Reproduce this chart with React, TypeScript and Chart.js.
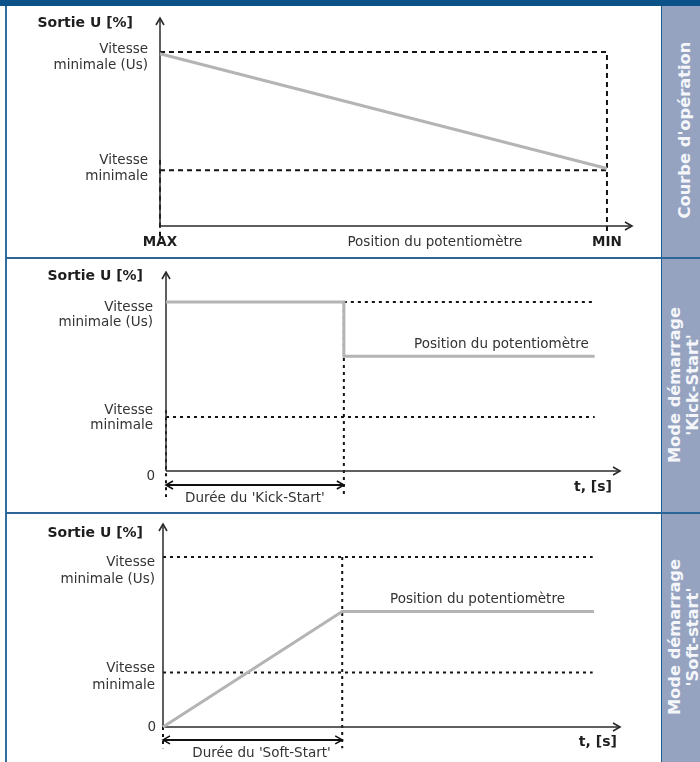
import React, { useEffect, useRef } from "react";
import { Chart, registerables } from "chart.js";

Chart.register(...registerables);

const FONT = '"DejaVu Sans", Verdana, sans-serif';

// ---------------- data ----------------
// Output levels (Sortie U [%]) in percent of the Us level
const LEVEL_US = 100; // Vitesse minimale (Us)
const LEVEL_POT = 68; // Position du potentiomètre
const LEVEL_VMIN = 32; // Vitesse minimale

const Y_TITLE = "Sortie U [%]";
const Y_LABELS_US = ["Vitesse", "minimale (Us)"];
const Y_LABELS_VMIN = ["Vitesse", "minimale"];
const ZERO_LABEL = "0";
const T_LABEL = "t, [s]";
const POT_LABEL = "Position du potentiomètre";

// Panel 1 : courbe d'opération (x = potentiometer position, MAX -> MIN)
const P1_TICK_VALUES = [0, 100];
const P1_TICK_LABELS = ["MAX", "MIN"];
const P1_CURVE_X = [0, 100];
const P1_CURVE_Y = [99, 33];

// Panel 2 : Kick-Start (x = time)
const P2_KICK_END = 40;
const P2_END = 96.4;
const P2_CURVE_X = [0, P2_KICK_END, P2_KICK_END, P2_END];
const P2_CURVE_Y = [LEVEL_US, LEVEL_US, LEVEL_POT, LEVEL_POT];

// Panel 3 : Soft-Start (x = time)
const P3_SOFT_END = 40;
const P3_END = 96.2;
const P3_CURVE_X = [0, P3_SOFT_END, P3_END];
const P3_CURVE_Y = [0, LEVEL_POT, LEVEL_POT];

const DURATION_LABELS = ["Durée du 'Kick-Start'", "Durée du 'Soft-Start'"];
const SIDE_TITLES = [
  ["Courbe d'opération"],
  ["Mode démarrage", "'Kick-Start'"],
  ["Mode démarrage", "'Soft-start'"],
];

// ---------------- helpers ----------------
type Pt = { x: number; y: number };
const zip = (xs: number[], ys: number[]): Pt[] => xs.map((x, i) => ({ x, y: ys[i] }));

type TextItem = {
  t: string;
  x: number;
  y: number;
  dx?: number;
  dy?: number;
  align?: CanvasTextAlign;
  bold?: boolean;
  size?: number;
};

const GRAY = "#b4b4b4";
const DOT = "#141414";
const AXIS = "#2a2a2a";

function curve(data: Pt[]) {
  return { data, borderColor: GRAY, borderWidth: 3, order: 0 };
}
function ref(data: Pt[], dash: number[]) {
  return { data, borderColor: DOT, borderWidth: 2, borderDash: dash, order: 2 };
}
function axis(data: Pt[]) {
  return { data, borderColor: AXIS, borderWidth: 1.5, arrow: "end", order: 1 };
}
function dim(data: Pt[]) {
  return { data, borderColor: "#111", borderWidth: 2, arrow: "both", order: 1 };
}

function makePlugin(texts: TextItem[]) {
  return {
    id: "diagram",
    afterDatasetsDraw(chart: any) {
      const ctx: CanvasRenderingContext2D = chart.ctx;
      ctx.save();
      chart.data.datasets.forEach((ds: any, i: number) => {
        if (!ds.arrow) return;
        const pts = chart.getDatasetMeta(i).data;
        const head = (p: any, q: any) => {
          const vx = p.x - q.x;
          const vy = p.y - q.y;
          const len = Math.hypot(vx, vy) || 1;
          const ux = vx / len;
          const uy = vy / len;
          const L = 7;
          const W = 4;
          ctx.beginPath();
          ctx.moveTo(p.x - L * ux - W * uy, p.y - L * uy + W * ux);
          ctx.lineTo(p.x, p.y);
          ctx.lineTo(p.x - L * ux + W * uy, p.y - L * uy - W * ux);
          ctx.strokeStyle = ds.borderColor;
          ctx.lineWidth = 1.6;
          ctx.lineJoin = "miter";
          ctx.stroke();
        };
        head(pts[pts.length - 1], pts[pts.length - 2]);
        if (ds.arrow === "both") head(pts[0], pts[1]);
      });
      const xs = chart.scales.x;
      const ys = chart.scales.y;
      texts.forEach((t) => {
        const size = t.size ?? 13.5;
        ctx.font = `${t.bold ? "bold " : ""}${size}px ${FONT}`;
        ctx.fillStyle = t.bold ? "#1e1e1e" : "#333333";
        ctx.textAlign = t.align ?? "left";
        ctx.textBaseline = "middle";
        ctx.fillText(
          t.t,
          xs.getPixelForValue(t.x) + (t.dx ?? 0),
          ys.getPixelForValue(t.y) + (t.dy ?? 0)
        );
      });
      ctx.restore();
    },
  };
}

type Spec = {
  top: number;
  height: number;
  pad: { left: number; right: number; top: number; bottom: number };
  xMax: number;
  yMax: number;
  datasets: any[];
  texts: TextItem[];
};

// ---------------- panel specs ----------------
function panel1(): Spec {
  const xMax = 105.6;
  const yMax = 119.5;
  const dash = [5, 4];
  return {
    top: 6,
    height: 251,
    pad: { left: 154, right: 29, top: 12, bottom: 31 },
    xMax,
    yMax,
    datasets: [
      curve(zip(P1_CURVE_X, P1_CURVE_Y)),
      ref(zip([0, P1_TICK_VALUES[1], P1_TICK_VALUES[1]], [LEVEL_US, LEVEL_US, -4]), dash),
      ref(zip([0, P1_TICK_VALUES[1]], [LEVEL_VMIN, LEVEL_VMIN]), dash),
      ref(zip([0, 0], [38, -6]), dash),
      axis(zip([0, 0], [0, yMax])),
      axis(zip([0, xMax], [0, 0])),
    ],
    texts: [
      { t: Y_TITLE, x: 0, y: yMax, dx: -27, dy: 5, align: "right", bold: true, size: 14 },
      { t: Y_LABELS_US[0], x: 0, y: LEVEL_US, dx: -12, dy: -2, align: "right" },
      { t: Y_LABELS_US[1], x: 0, y: LEVEL_US, dx: -12, dy: 14, align: "right" },
      { t: Y_LABELS_VMIN[0], x: 0, y: LEVEL_VMIN, dx: -12, dy: -10, align: "right" },
      { t: Y_LABELS_VMIN[1], x: 0, y: LEVEL_VMIN, dx: -12, dy: 6, align: "right" },
      { t: P1_TICK_LABELS[0], x: P1_TICK_VALUES[0], y: 0, dy: 16.5, align: "center", bold: true },
      { t: P1_TICK_LABELS[1], x: P1_TICK_VALUES[1], y: 0, dy: 16.5, align: "center", bold: true },
      { t: POT_LABEL, x: 61.5, y: 0, dy: 16.5, align: "center" },
    ],
  };
}

function panel2(): Spec {
  const xMax = 102.1;
  const yMax = 117.8;
  const dash = [3, 4];
  const below = -15.4;
  const arrowY = -8.3;
  return {
    top: 259,
    height: 253,
    pad: { left: 160, right: 41, top: 13, bottom: 41 },
    xMax,
    yMax,
    datasets: [
      curve(zip(P2_CURVE_X, P2_CURVE_Y)),
      ref(zip([P2_KICK_END, P2_END], [LEVEL_US, LEVEL_US]), dash),
      ref(zip([0, P2_END], [LEVEL_VMIN, LEVEL_VMIN]), dash),
      ref(zip([P2_KICK_END, P2_KICK_END], [LEVEL_US, below]), dash),
      ref(zip([0, 0], [36, below]), dash),
      dim(zip([0, P2_KICK_END], [arrowY, arrowY])),
      axis(zip([0, 0], [0, yMax])),
      axis(zip([0, xMax], [0, 0])),
    ],
    texts: [
      { t: Y_TITLE, x: 0, y: yMax, dx: -23, dy: 4, align: "right", bold: true, size: 14 },
      { t: Y_LABELS_US[0], x: 0, y: LEVEL_US, dx: -13, dy: 5, align: "right" },
      { t: Y_LABELS_US[1], x: 0, y: LEVEL_US, dx: -13, dy: 20, align: "right" },
      { t: Y_LABELS_VMIN[0], x: 0, y: LEVEL_VMIN, dx: -13, dy: -6, align: "right" },
      { t: Y_LABELS_VMIN[1], x: 0, y: LEVEL_VMIN, dx: -13, dy: 9, align: "right" },
      { t: ZERO_LABEL, x: 0, y: 0, dx: -11, dy: 5, align: "right" },
      { t: POT_LABEL, x: 95.1, y: LEVEL_POT, dy: -12, align: "right" },
      { t: T_LABEL, x: 100.3, y: 0, dy: 16, align: "right", bold: true, size: 14 },
      { t: DURATION_LABELS[0], x: P2_KICK_END / 2, y: 0, dy: 27, align: "center" },
    ],
  };
}

function panel3(): Spec {
  const xMax = 102;
  const yMax = 119.4;
  const dash = [3, 4];
  const below = -12.5;
  const arrowY = -7.6;
  return {
    top: 514,
    height: 248,
    pad: { left: 157, right: 41, top: 10, bottom: 35 },
    xMax,
    yMax,
    datasets: [
      curve(zip(P3_CURVE_X, P3_CURVE_Y)),
      ref(zip([0, 95.9], [LEVEL_US, LEVEL_US]), dash),
      ref(zip([0, 95.9], [LEVEL_VMIN, LEVEL_VMIN]), dash),
      ref(zip([P3_SOFT_END, P3_SOFT_END], [LEVEL_US, below]), dash),
      ref(zip([0, 0], [0, below]), dash),
      dim(zip([0, P3_SOFT_END], [arrowY, arrowY])),
      axis(zip([0, 0], [0, yMax])),
      axis(zip([0, xMax], [0, 0])),
    ],
    texts: [
      { t: Y_TITLE, x: 0, y: yMax, dx: -20, dy: 9, align: "right", bold: true, size: 14 },
      { t: Y_LABELS_US[0], x: 0, y: LEVEL_US, dx: -8, dy: 6, align: "right" },
      { t: Y_LABELS_US[1], x: 0, y: LEVEL_US, dx: -8, dy: 23, align: "right" },
      { t: Y_LABELS_VMIN[0], x: 0, y: LEVEL_VMIN, dx: -8, dy: -4, align: "right" },
      { t: Y_LABELS_VMIN[1], x: 0, y: LEVEL_VMIN, dx: -8, dy: 13, align: "right" },
      { t: ZERO_LABEL, x: 0, y: 0, dx: -7, dy: 0, align: "right" },
      { t: POT_LABEL, x: 70.2, y: LEVEL_POT, dy: -12, align: "center" },
      { t: T_LABEL, x: 101.3, y: 0, dy: 15, align: "right", bold: true, size: 14 },
      { t: DURATION_LABELS[1], x: 22, y: 0, dy: 26, align: "center" },
    ],
  };
}

const CANVAS_LEFT = 6;
const CANVAS_WIDTH = 655;

function PanelChart({ spec }: { spec: Spec }) {
  const ref = useRef<HTMLCanvasElement | null>(null);
  useEffect(() => {
    if (!ref.current) return;
    const chart = new Chart(ref.current, {
      type: "scatter",
      data: {
        datasets: spec.datasets.map((d) => ({
          ...d,
          showLine: true,
          pointRadius: 0,
          pointHoverRadius: 0,
          fill: false,
          tension: 0,
          clip: false,
          borderCapStyle: "butt",
        })),
      } as any,
      options: {
        animation: false,
        responsive: false,
        events: [],
        layout: { padding: spec.pad },
        scales: {
          x: { type: "linear", min: 0, max: spec.xMax, display: false },
          y: { type: "linear", min: 0, max: spec.yMax, display: false },
        },
        plugins: { legend: { display: false }, tooltip: { enabled: false } },
      },
      plugins: [makePlugin(spec.texts)],
    } as any);
    return () => chart.destroy();
  }, [spec]);
  return (
    <canvas
      ref={ref}
      width={CANVAS_WIDTH}
      height={spec.height}
      style={{
        position: "absolute",
        left: CANVAS_LEFT,
        top: spec.top,
        width: CANVAS_WIDTH,
        height: spec.height,
      }}
    />
  );
}

const SPECS = [panel1(), panel2(), panel3()];
const SIDE_CENTERS = [
  { x: 685, y: 130 },
  { x: 684, y: 385 },
  { x: 684, y: 637 },
];

export default function App() {
  return (
    <div
      style={{
        position: "absolute",
        left: 0,
        top: 0,
        width: 700,
        height: 762,
        overflow: "hidden",
        background: "#ffffff",
        fontFamily: FONT,
      }}
    >
      <div style={{ position: "absolute", left: 0, top: 0, width: 700, height: 6, background: "#0b5288" }} />
      <div style={{ position: "absolute", left: 5, top: 6, width: 1.5, height: 756, background: "#2f6ea0" }} />
      <div
        style={{
          position: "absolute",
          left: 661,
          top: 6,
          width: 39,
          height: 756,
          background: "#95a3c1",
          borderLeft: "1px solid #1f5d90",
          boxSizing: "border-box",
        }}
      />
      <div style={{ position: "absolute", left: 6, top: 257, width: 694, height: 2, background: "#2b6697" }} />
      <div style={{ position: "absolute", left: 6, top: 512, width: 694, height: 2, background: "#2b6697" }} />
      {SPECS.map((s, i) => (
        <PanelChart key={i} spec={s} />
      ))}
      {SIDE_TITLES.map((lines, i) => (
        <div
          key={i}
          style={{
            position: "absolute",
            left: SIDE_CENTERS[i].x,
            top: SIDE_CENTERS[i].y,
            transform: "translate(-50%, -50%) rotate(-90deg)",
            whiteSpace: "nowrap",
            textAlign: "center",
            fontWeight: "bold",
            fontSize: 16.3,
            lineHeight: "18px",
            color: "#f4f6fa",
            fontFamily: FONT,
          }}
        >
          {lines.map((l, j) => (
            <div key={j}>{l}</div>
          ))}
        </div>
      ))}
    </div>
  );
}
